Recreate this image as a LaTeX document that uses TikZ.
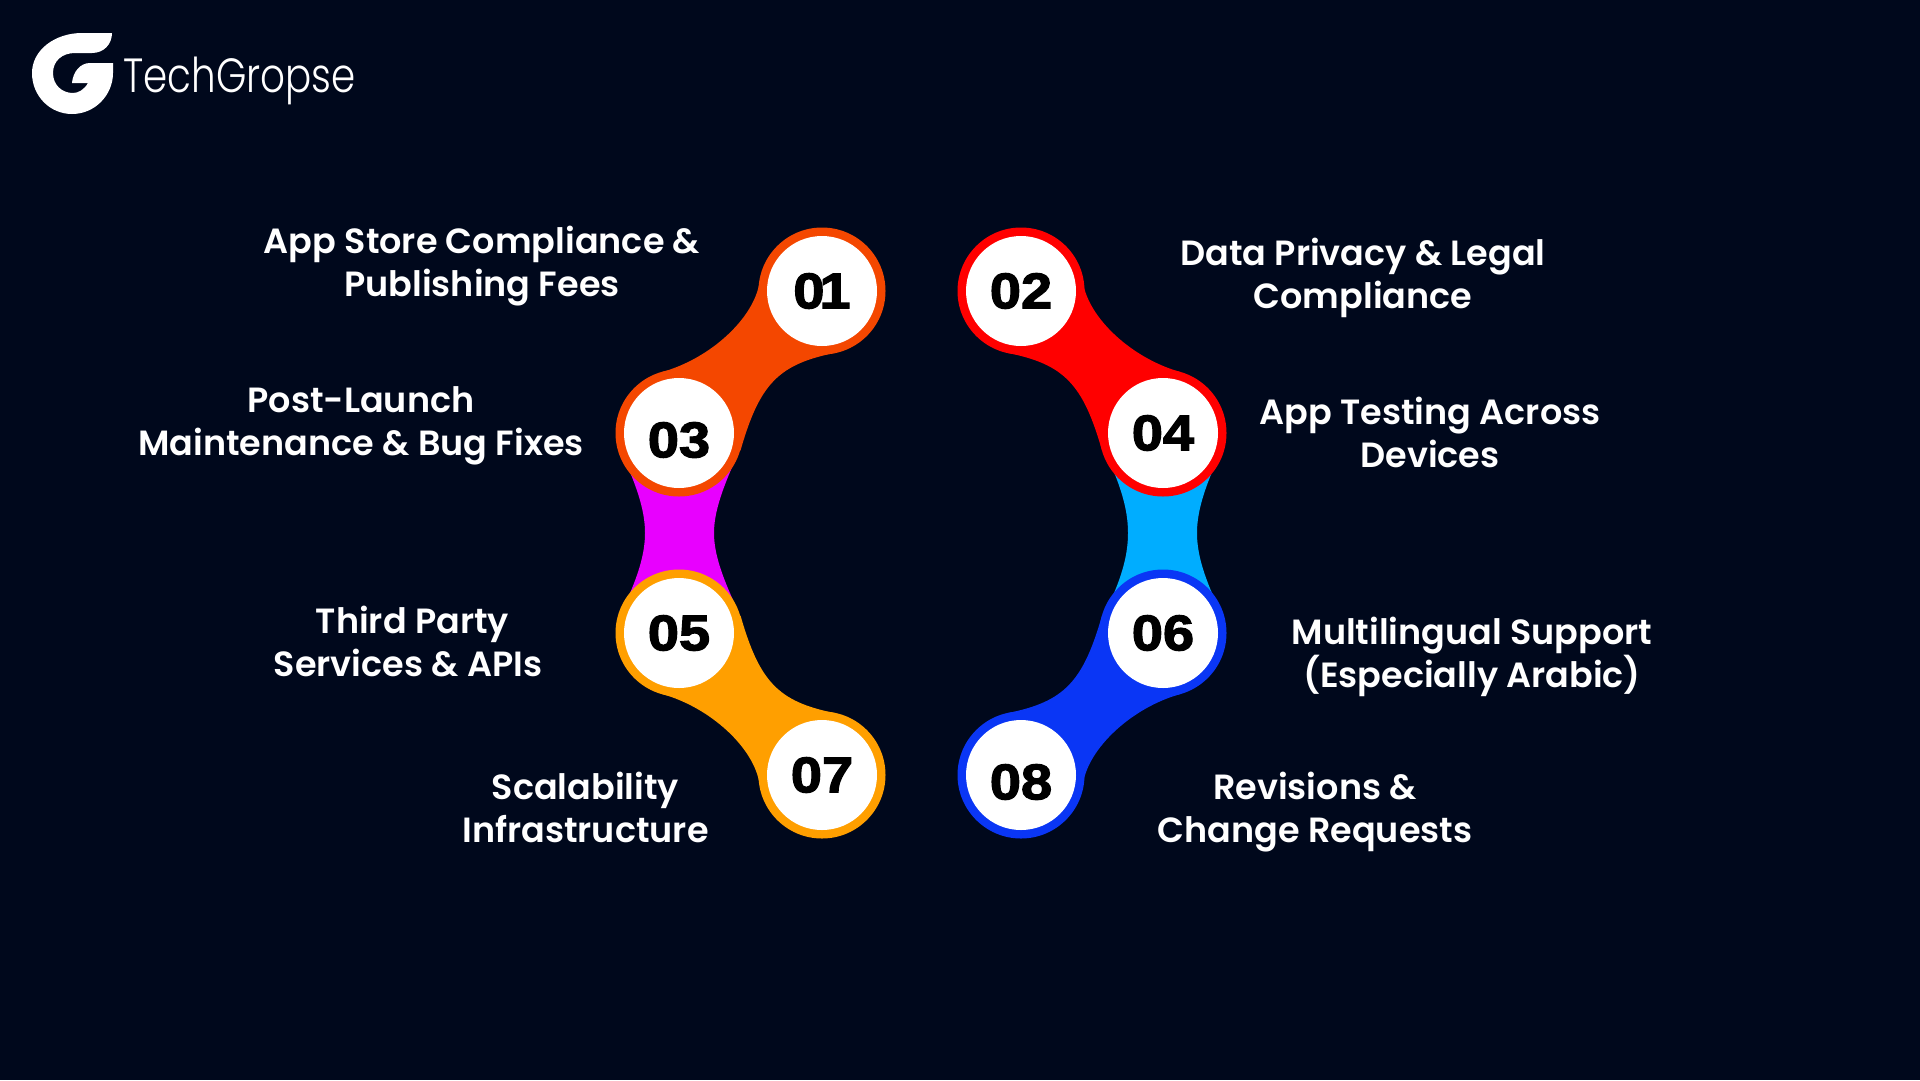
\documentclass[tikz,border=0pt]{standalone}
\usepackage{fontspec}
\setmainfont{Poppins SemiBold}
\newfontfamily\numfont{Liberation Sans Bold}[FakeBold=2.5,FakeStretch=1.12]
\newfontfamily\logofont{Poppins Light}[FakeStretch=0.81]
\definecolor{bgc}{HTML}{00081C}
\definecolor{c1}{HTML}{F44700}
\definecolor{c2}{HTML}{FF0000}
\definecolor{c3}{HTML}{E800FF}
\definecolor{c4}{HTML}{00ADFF}
\definecolor{c5}{HTML}{FF9F00}
\definecolor{c6}{HTML}{0A36F5}
\newcommand{\blobshape}{(9,-80) .. controls (3.8,-44) and (-40,-3.5) .. (-88.5,10) -- (-10,88.5) .. controls (9,22) and (27.8,2.4) .. (84,-9) -- cycle}
\tikzset{x=1pt,y=-1pt,
 ring/.style={circle,minimum size=127pt,inner sep=0pt,fill=#1},
 disc/.style={circle,minimum size=110pt,inner sep=0pt,fill=white},
 num/.style={text=black,inner sep=0pt,font=\numfont\fontsize{50}{50}\selectfont},
 lab/.style={align=center,text=white,inner sep=0pt,font=\fontsize{35}{43}\selectfont}}
\begin{document}
\begin{tikzpicture}
\useasboundingbox (0,0) rectangle (1920,1080);
\fill[bgc] (0,0) rectangle (1920,1080);
% necks
\fill[c3] (627,465) .. controls (640,495) and (645,515) .. (645,533) .. controls (645,551) and (640,571) .. (627,600) -- (733,600) .. controls (720,571) and (714,551) .. (714,533) .. controls (714,515) and (720,495) .. (733,465) -- cycle;
\fill[c4] (1111,465) .. controls (1124,495) and (1128,515) .. (1128,533) .. controls (1128,551) and (1124,571) .. (1111,600) -- (1215,600) .. controls (1202,571) and (1197,551) .. (1197,533) .. controls (1197,515) and (1202,495) .. (1215,465) -- cycle;
% blobs
\begin{scope}[shift={(750.5,362)}] \fill[c1] \blobshape; \end{scope}
\begin{scope}[shift={(1092,362)},xscale=-1] \fill[c2] \blobshape; \end{scope}
\begin{scope}[shift={(750.5,704)},yscale=-1] \fill[c5] \blobshape; \end{scope}
\begin{scope}[shift={(1092,704)},xscale=-1,yscale=-1] \fill[c6] \blobshape; \end{scope}
\node[ring=c1] (r1) at (822,291) {};
\node[ring=c1] (r3) at (679,433) {};
\node[ring=c5] (r5) at (679,633) {};
\node[ring=c5] (r7) at (822,775) {};
\node[ring=c2] (r2) at (1021,291) {};
\node[ring=c2] (r4) at (1163,433) {};
\node[ring=c6] (r6) at (1163,633) {};
\node[ring=c6] (r8) at (1021,775) {};
\node[disc] (d1) at (r1) {};
\node[disc] (d2) at (r2) {};
\node[disc] (d3) at (r3) {};
\node[disc] (d4) at (r4) {};
\node[disc] (d5) at (r5) {};
\node[disc] (d6) at (r6) {};
\node[disc] (d7) at (r7) {};
\node[disc] (d8) at (r8) {};
\node[num] (n1) at (822,291) {0\kern-5pt 1};
\node[num] (n2) at (1021,291) {02};
\node[num] (n3) at (679,440) {03};
\node[num] (n4) at (1163,433) {04};
\node[num] (n5) at (679,633) {05};
\node[num] (n6) at (1163,633) {06};
\node[num] (n7) at (822,775) {07};
\node[num] (n8) at (1021,782) {08};
\node[lab] (t1) at (482,266) {App Store Compliance \&\\Publishing Fees};
\node[lab] (t2) at (1363,278) {Data Privacy \& Legal\\Compliance};
\node[lab] (t3) at (361,426) {Post-Launch\\Maintenance \& Bug Fixes};
\node[lab] (t4) at (1430,432) {App Testing Across\\Devices};
\node[lab] (t5) at (408,641) {\hspace*{9pt}Third Party\\Services \& APIs};
\node[lab] (t6) at (1472,657) {Multilingual Support\\(Especially Arabic)};
\node[lab] (t7) at (585.5,807) {Scalability\\Infrastructure};
\node[lab] (t8) at (1315,812) {Revisions \&\\Change Requests};
% logo
\fill[white] (112,33) -- (82,33) .. controls (55,33) and (32,50) .. (32,73) .. controls (32,96) and (50,114) .. (72,114) .. controls (95,114) and (113,95) .. (113,73) -- (113,63) -- (90,63) .. controls (80,63) and (73,72) .. (72,83) -- (88,83) .. controls (84,90) and (78,93) .. (73,93) .. controls (62,93) and (53,85) .. (53,73) .. controls (53,61) and (62,53) .. (75,53) -- (92,53) .. controls (104,53) and (112,44) .. (112,33) -- cycle;
\node[text=white,anchor=base west,inner sep=0pt,font=\logofont\fontsize{48}{48}\selectfont] (logo) at (123,92) {TechGropse};
\end{tikzpicture}
\end{document}
